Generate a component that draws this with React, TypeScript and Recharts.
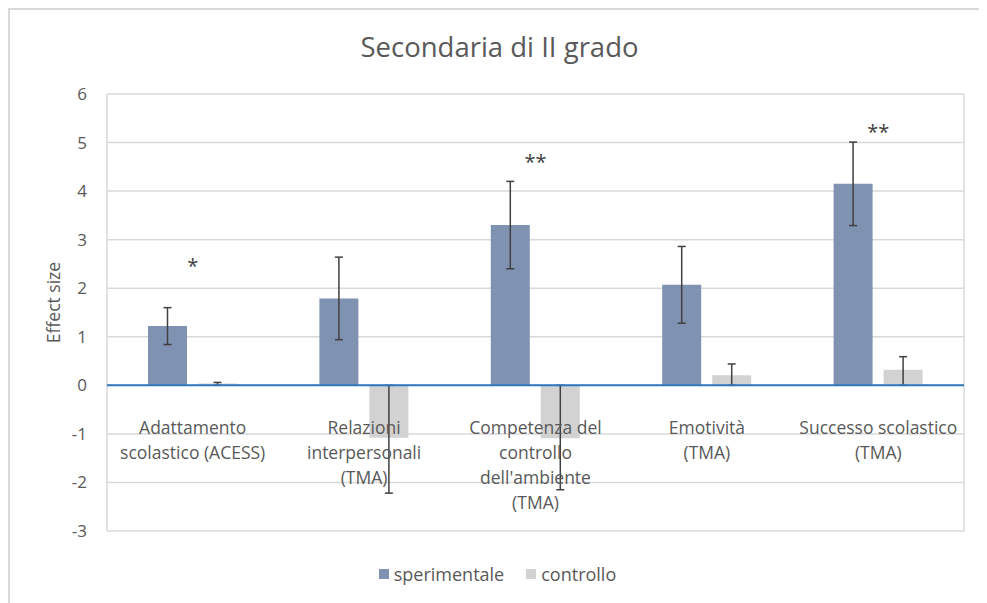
import React from 'react';
import {
  ComposedChart,
  Bar,
  Line,
  XAxis,
  YAxis,
  CartesianGrid,
  ErrorBar,
  ReferenceLine,
  Legend,
  LabelList,
} from 'recharts';

// ---- data ----
const categoryLines: string[][] = [
  ['Adattamento', 'scolastico (ACESS)'],
  ['Relazioni', 'interpersonali', '(TMA)'],
  ['Competenza del', 'controllo', "dell'ambiente", '(TMA)'],
  ['Emotività', '(TMA)'],
  ['Successo scolastico', '(TMA)'],
];
const seriesNames = ['sperimentale', 'controllo'];
const sperimentale = [1.22, 1.79, 3.3, 2.07, 4.15];
const sperimentaleErr = [0.38, 0.85, 0.9, 0.79, 0.86];
const controllo = [0.04, -1.08, -1.09, 0.21, 0.32];
// [minus, plus]
const controlloErr: [number, number][] = [
  [0.04, 0.02],
  [1.14, 1.08],
  [1.06, 1.09],
  [0.21, 0.23],
  [0.32, 0.27],
];
const significance = ['*', '', '**', '', '**'];
const significanceY: (number | null)[] = [2.5, null, 4.64, null, 5.25];
const yTicks = [-3, -2, -1, 0, 1, 2, 3, 4, 5, 6];

const title = 'Secondaria di II grado';
const yLabel = 'Effect size';

const data = categoryLines.map((lines, i) => ({
  name: lines.join(' '),
  sperimentale: sperimentale[i],
  sperimentaleErr: sperimentaleErr[i],
  controllo: controllo[i],
  controlloErr: controlloErr[i],
  zero: 0,
  sig: significance[i],
  sigY: significanceY[i],
}));

const FONT = '"Open Sans", "Noto Sans", sans-serif';
const TEXT = '#595959';
const BLUE = '#7F92B2';
const GREY = '#D2D2D2';

const CategoryLabel = (props: any) => {
  const { x, y, index } = props;
  if (x == null || y == null) return null;
  const lines = categoryLines[index] || [];
  return (
    <text
      x={x}
      y={y + 49}
      textAnchor="middle"
      fontFamily={FONT}
      fontSize={17.5}
      fill={TEXT}
    >
      {lines.map((l, i) => (
        <tspan key={i} x={x} dy={i === 0 ? 0 : 25}>
          {l}
        </tspan>
      ))}
    </text>
  );
};

const SigLabel = (props: any) => {
  const { x, y, value } = props;
  if (x == null || y == null || !value) return null;
  return (
    <text
      x={x}
      y={y + 9}
      textAnchor="middle"
      fontFamily={FONT}
      fontSize={20}
      fill="#404040"
    >
      {value}
    </text>
  );
};

const YLabel = (props: any) => {
  const { viewBox } = props;
  const cx = viewBox.x + 45;
  const cy = viewBox.y + viewBox.height / 2 - 10;
  return (
    <text
      x={cx}
      y={cy}
      transform={`rotate(-90, ${cx}, ${cy})`}
      textAnchor="middle"
      dominantBaseline="central"
      fontFamily={FONT}
      fontSize={17.5}
      fill={TEXT}
    >
      {yLabel}
    </text>
  );
};

const LegendContent = (props: any) => {
  const { payload } = props;
  const items = (payload || [])
    .filter((p: any) => seriesNames.includes(p.value))
    .sort((a: any, b: any) => seriesNames.indexOf(a.value) - seriesNames.indexOf(b.value));
  return (
    <div
      style={{
        display: 'flex',
        justifyContent: 'center',
        alignItems: 'center',
        fontFamily: FONT,
        fontSize: 18,
        color: TEXT,
        height: 20,
      }}
    >
      {items.map((p: any, i: number) => (
        <div
          key={i}
          style={{ display: 'flex', alignItems: 'center', marginLeft: i === 0 ? 0 : 22 }}
        >
          <span
            style={{
              display: 'inline-block',
              width: 10,
              height: 10,
              background: p.color,
              marginRight: 5,
            }}
          />
          <span>{p.value}</span>
        </div>
      ))}
    </div>
  );
};

export default function App() {
  return (
    <div
      style={{
        position: 'relative',
        width: 979,
        height: 595,
        borderTop: '2px solid #D9D9D9',
        borderLeft: '2px solid #D9D9D9',
        boxSizing: 'border-box',
        background: '#fff',
      }}
    >
      <div
        style={{
          position: 'absolute',
          top: 18,
          left: 0,
          width: 979,
          textAlign: 'center',
          fontFamily: FONT,
          fontSize: 27.5,
          color: TEXT,
          lineHeight: '38px',
        }}
      >
        {title}
      </div>
      <div style={{ position: 'absolute', top: -2, left: -2 }}>
        <ComposedChart
          width={979}
          height={595}
          data={data}
          margin={{ top: 86, right: 23, bottom: 52, left: 0 }}
          barGap={11}
        >
          <CartesianGrid
            stroke="#D9D9D9"
            strokeWidth={1.5}
            vertical={true}
            verticalCoordinatesGenerator={({ offset }: any) => [
              offset.left,
              offset.left + offset.width,
            ]}
          />
          <XAxis dataKey="name" hide />
          <YAxis
            domain={[-3, 6]}
            ticks={yTicks}
            width={99}
            axisLine={false}
            tickLine={false}
            tickSize={12}
            tickMargin={8}
            tick={{ fontFamily: FONT, fontSize: 17, fill: TEXT }}
            label={<YLabel />}
          />
          <Bar
            dataKey="sperimentale"
            name="sperimentale"
            fill={BLUE}
            barSize={39}
            isAnimationActive={false}
          >
            <ErrorBar dataKey="sperimentaleErr" width={4} stroke="#404040" strokeWidth={1.5} />
          </Bar>
          <Bar
            dataKey="controllo"
            name="controllo"
            fill={GREY}
            barSize={39}
            isAnimationActive={false}
          >
            <ErrorBar dataKey="controlloErr" width={4} stroke="#404040" strokeWidth={1.5} />
          </Bar>
          <ReferenceLine y={0} stroke="#2F78BE" strokeWidth={2} {...({ zIndex: 900 } as any)} />
          <Line
            dataKey="zero"
            stroke="none"
            dot={false}
            activeDot={false}
            legendType="none"
            isAnimationActive={false}
          >
            <LabelList dataKey="zero" content={<CategoryLabel />} />
          </Line>
          <Line
            dataKey="sigY"
            stroke="none"
            dot={false}
            activeDot={false}
            legendType="none"
            connectNulls={false}
            isAnimationActive={false}
          >
            <LabelList dataKey="sig" content={<SigLabel />} />
          </Line>
          <Legend
            verticalAlign="bottom"
            content={<LegendContent />}
            wrapperStyle={{ top: 556, bottom: 'auto', left: 0, width: 979 }}
          />
        </ComposedChart>
      </div>
    </div>
  );
}
